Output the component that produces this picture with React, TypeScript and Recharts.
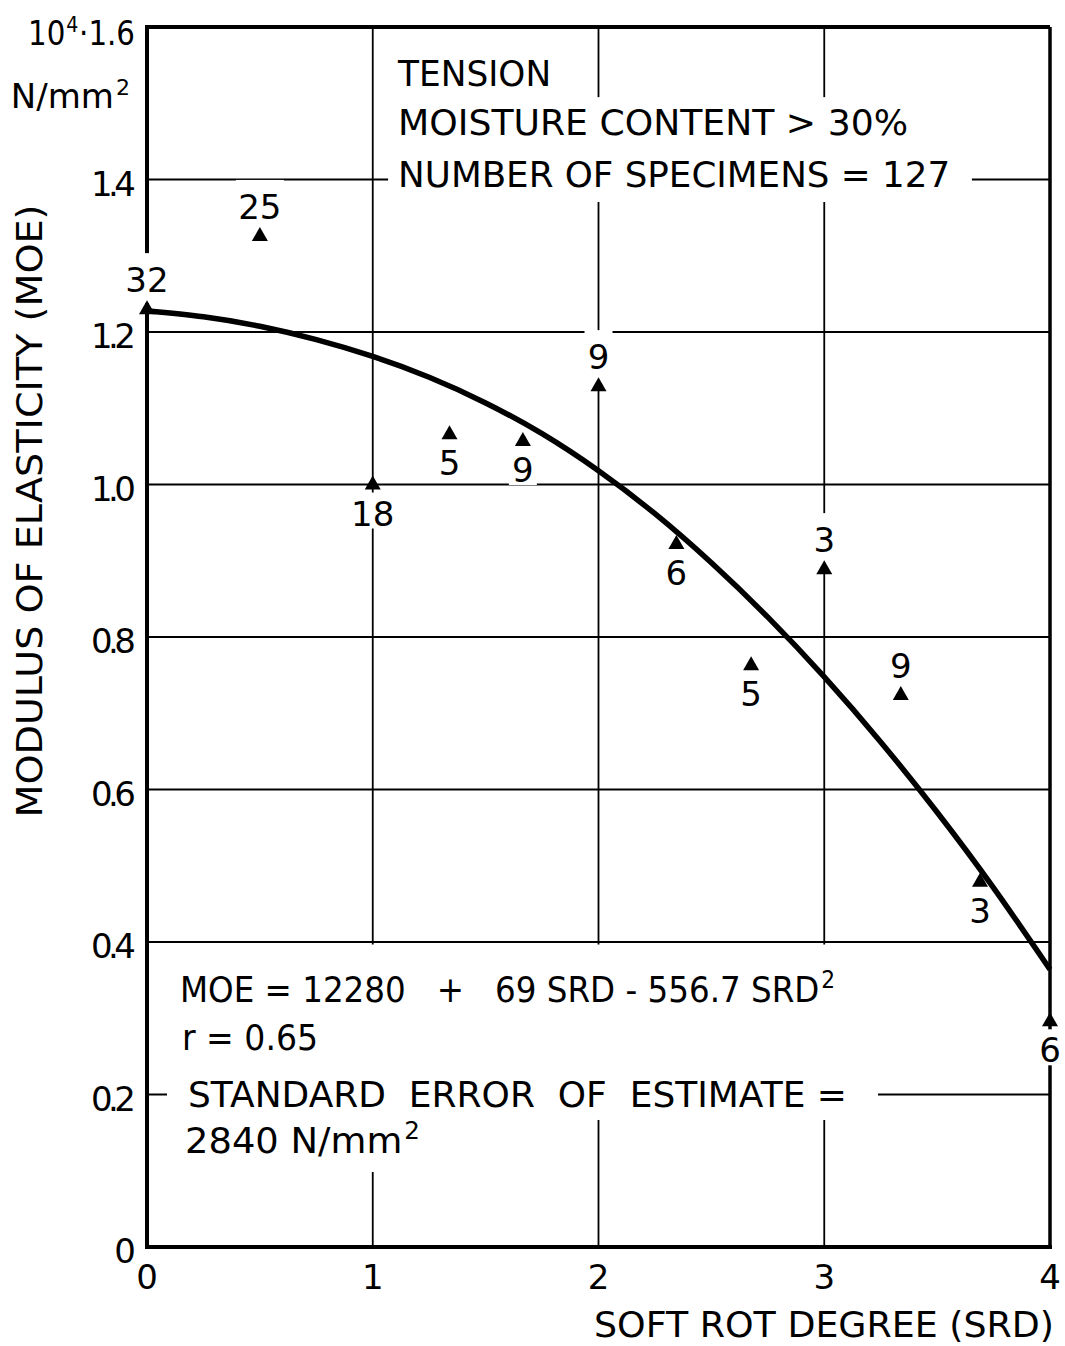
import React from 'react';
import {
  ComposedChart,
  Line,
  Scatter,
  XAxis,
  YAxis,
  CartesianGrid,
  ReferenceLine,
  ReferenceArea,
} from 'recharts';

// Mean modulus of elasticity per soft-rot class (10^4 N/mm²) and number of specimens
const pointSrd = [0, 0.5, 1, 1.34, 1.665, 2, 2.345, 2.676, 3, 3.339, 3.69, 4];
const pointMoe = [1.23, 1.326, 1.0, 1.066, 1.057, 1.129, 0.922, 0.763, 0.889, 0.724, 0.479, 0.296];
const pointCount = [32, 25, 18, 5, 9, 9, 6, 5, 3, 9, 3, 6];

// Fitted regression curve MOE = 12280 + 69 SRD - 556.7 SRD²
const curveSrd = [0, 0.25, 0.5, 0.75, 1, 1.25, 1.5, 1.75, 2, 2.25, 2.5, 2.75, 3, 3.25, 3.5, 3.75, 4];
const curveMoe = [1.228, 1.22, 1.2075, 1.19, 1.168, 1.1406, 1.107, 1.0666, 1.018, 0.9617, 0.8973, 0.826, 0.7477, 0.6624, 0.5702, 0.471, 0.364];

const xTicks = [0, 1, 2, 3, 4];
const yTicks = [0, 0.2, 0.4, 0.6, 0.8, 1.0, 1.2, 1.4, 1.6];
const yTickLabels = ['0', '0.2', '0.4', '0.6', '0.8', '1.0', '1.2', '1.4', '1.6'];

const topNotes = ['TENSION', 'MOISTURE CONTENT > 30%', 'NUMBER OF SPECIMENS = 127'];
const xTitle = 'SOFT ROT DEGREE (SRD)';
const yTitle = 'MODULUS OF ELASTICITY (MOE)';

// which count labels sit above their marker (others go below)
const countAbove = [true, true, false, false, false, true, false, false, true, true, false, false];

const points = pointSrd.map((srd, i) => ({
  srd,
  moe: pointMoe[i],
  count: pointCount[i],
  above: countAbove[i],
}));
const curve = curveSrd.map((srd, i) => ({ srd, moe: curveMoe[i] }));

const FONT = { fontFamily: '"DejaVu Sans", "Liberation Sans", sans-serif', fill: '#000' };
const INK = '#000';

const YTick = (props: any) => {
  const { x, y, payload } = props;
  const v = payload.value;
  if (v === 1.6) {
    return (
      <g>
        <text x={x - 2} y={y + 18} textAnchor="end" fontSize={34} textLength={107} lengthAdjust="spacingAndGlyphs" {...FONT}>
          10<tspan dx={1} dy={-13} fontSize={22}>4</tspan>
          <tspan dx={1} dy={13}>·1.6</tspan>
        </text>
        <text x={x - 7} y={y + 81} textAnchor="end" fontSize={34} {...FONT}>
          N/mm<tspan dx={2} dy={-13} fontSize={22}>2</tspan>
        </text>
      </g>
    );
  }
  const label = yTickLabels[yTicks.indexOf(v)];
  return (
    <text
      x={x - 1}
      y={y + 16}
      textAnchor="end"
      fontSize={34}
      textLength={label.length > 1 ? 45 : undefined}
      lengthAdjust="spacing"
      {...FONT}
    >
      {label}
    </text>
  );
};

const XTick = (props: any) => {
  const { x, y, payload } = props;
  return (
    <text x={x} y={y + 42} textAnchor="middle" fontSize={34} {...FONT}>
      {payload.value}
    </text>
  );
};

const XTitle = (props: any) => {
  const vb = props.viewBox || { x: 147, y: 1247, width: 903, height: 99 };
  return (
    <text
      x={vb.x + vb.width + 4}
      y={vb.y + 90}
      textAnchor="end"
      fontSize={36}
      textLength={460}
      lengthAdjust="spacingAndGlyphs"
      {...FONT}
    >
      {xTitle}
    </text>
  );
};

const YTitle = (props: any) => {
  const vb = props.viewBox || { x: 0, y: 27, width: 147, height: 1220 };
  const cx = vb.x + 42;
  const cy = vb.y + 484;
  return (
    <text
      x={0}
      y={0}
      transform={`translate(${cx},${cy}) rotate(-90)`}
      textAnchor="middle"
      fontSize={36}
      textLength={613}
      lengthAdjust="spacingAndGlyphs"
      {...FONT}
    >
      {yTitle}
    </text>
  );
};

// Triangle marker with its specimen count; the white backing clears grid lines behind the number
const CountMarker = (props: any) => {
  const { cx, cy, payload } = props;
  if (cx == null || cy == null) return null;
  const label = String(payload.count);
  const halfW = label.length * 10 + 4;
  const above = payload.above;
  const textY = above ? cy - 17 : cy + 41;
  const maskY = above ? cy - 56 : cy + 8;
  const maskH = above ? 50 : 36;
  return (
    <g>
      <rect x={cx - halfW} y={maskY} width={halfW * 2} height={maskH} fill="#fff" />
      <text x={cx} y={textY} textAnchor="middle" fontSize={34} {...FONT}>
        {label}
      </text>
      <polygon points={`${cx},${cy - 9} ${cx - 8},${cy + 5} ${cx + 8},${cy + 5}`} fill={INK} />
    </g>
  );
};

type NoteLine = { content: React.ReactNode; dx: number; baseline: number; length: number };

// White panel that interrupts the grid, with lettering on top
const notePanel = (lines: NoteLine[]) => (p: any) => (
  <g>
    <rect x={p.x} y={p.y} width={p.width} height={p.height} fill="#fff" />
    {lines.map((l, i) => (
      <text
        key={i}
        x={p.x + l.dx}
        y={p.y + l.baseline}
        fontSize={36}
        textLength={l.length}
        lengthAdjust="spacingAndGlyphs"
        style={{ whiteSpace: 'pre' }}
        {...FONT}
      >
        {l.content}
      </text>
    ))}
  </g>
);

const SUP = (s: string) => (
  <tspan dx={2} dy={-14} fontSize={24}>
    {s}
  </tspan>
);

const App = () => (
  <div style={{ position: 'absolute', left: 0, top: 0, width: 1065, height: 1346, background: '#fff' }}>
    <ComposedChart width={1065} height={1346} margin={{ top: 27, right: 15, bottom: 0, left: 0 }}>
      <CartesianGrid stroke={INK} strokeWidth={1.8} />

      <ReferenceArea
        x1={1.068}
        x2={1.838}
        y1={1.508}
        y2={1.57}
        shape={notePanel([{ content: topNotes[0], dx: 10, baseline: 36, length: 153 }])}
      />
      <ReferenceArea
        x1={1.068}
        x2={3.424}
        y1={1.4387}
        y2={1.508}
        shape={notePanel([{ content: topNotes[1], dx: 10, baseline: 38, length: 510 }])}
      />
      <ReferenceArea
        x1={1.068}
        x2={3.654}
        y1={1.3705}
        y2={1.4387}
        shape={notePanel([{ content: topNotes[2], dx: 10, baseline: 37, length: 552 }])}
      />
      <ReferenceArea
        x1={0.0886}
        x2={3.238}
        y1={0.1666}
        y2={0.3967}
        shape={notePanel([
          {
            content: (
              <>
                {'MOE = 12280   +   69 SRD - 556.7 SRD'}
                {SUP('2')}
              </>
            ),
            dx: 13,
            baseline: 57.5,
            length: 655,
          },
          { content: 'r = 0.65', dx: 15, baseline: 105.5, length: 136 },
          { content: 'STANDARD  ERROR  OF  ESTIMATE =', dx: 21, baseline: 162.5, length: 659 },
        ])}
      />
      <ReferenceArea
        x1={0.0886}
        x2={1.2536}
        y1={0.0984}
        y2={0.1675}
        shape={notePanel([
          {
            content: (
              <>
                {'2840 N/mm'}
                {SUP('2')}
              </>
            ),
            dx: 18,
            baseline: 34,
            length: 235,
          },
        ])}
      />

      <XAxis
        type="number"
        dataKey="srd"
        domain={[0, 4]}
        ticks={xTicks}
        interval={0}
        height={99}
        axisLine={{ stroke: INK, strokeWidth: 4, strokeLinecap: 'square' }}
        tickLine={false}
        tickSize={0}
        tickMargin={0}
        tick={<XTick />}
        label={<XTitle />}
      />
      <YAxis
        type="number"
        domain={[0, 1.6]}
        ticks={yTicks}
        interval={0}
        width={147}
        axisLine={{ stroke: INK, strokeWidth: 4, strokeLinecap: 'square' }}
        tickLine={false}
        tickSize={0}
        tickMargin={10}
        tick={<YTick />}
        label={<YTitle />}
      />
      <ReferenceLine y={1.6} stroke={INK} strokeWidth={4} />
      <ReferenceLine x={4} stroke={INK} strokeWidth={3.5} />

      <Scatter data={points} dataKey="moe" shape={CountMarker} isAnimationActive={false} />
      <Line
        data={curve}
        dataKey="moe"
        type="natural"
        stroke={INK}
        strokeWidth={5.5}
        dot={false}
        activeDot={false}
        isAnimationActive={false}
        {...({ zIndex: 700 } as any)}
      />
    </ComposedChart>
  </div>
);

export default App;
